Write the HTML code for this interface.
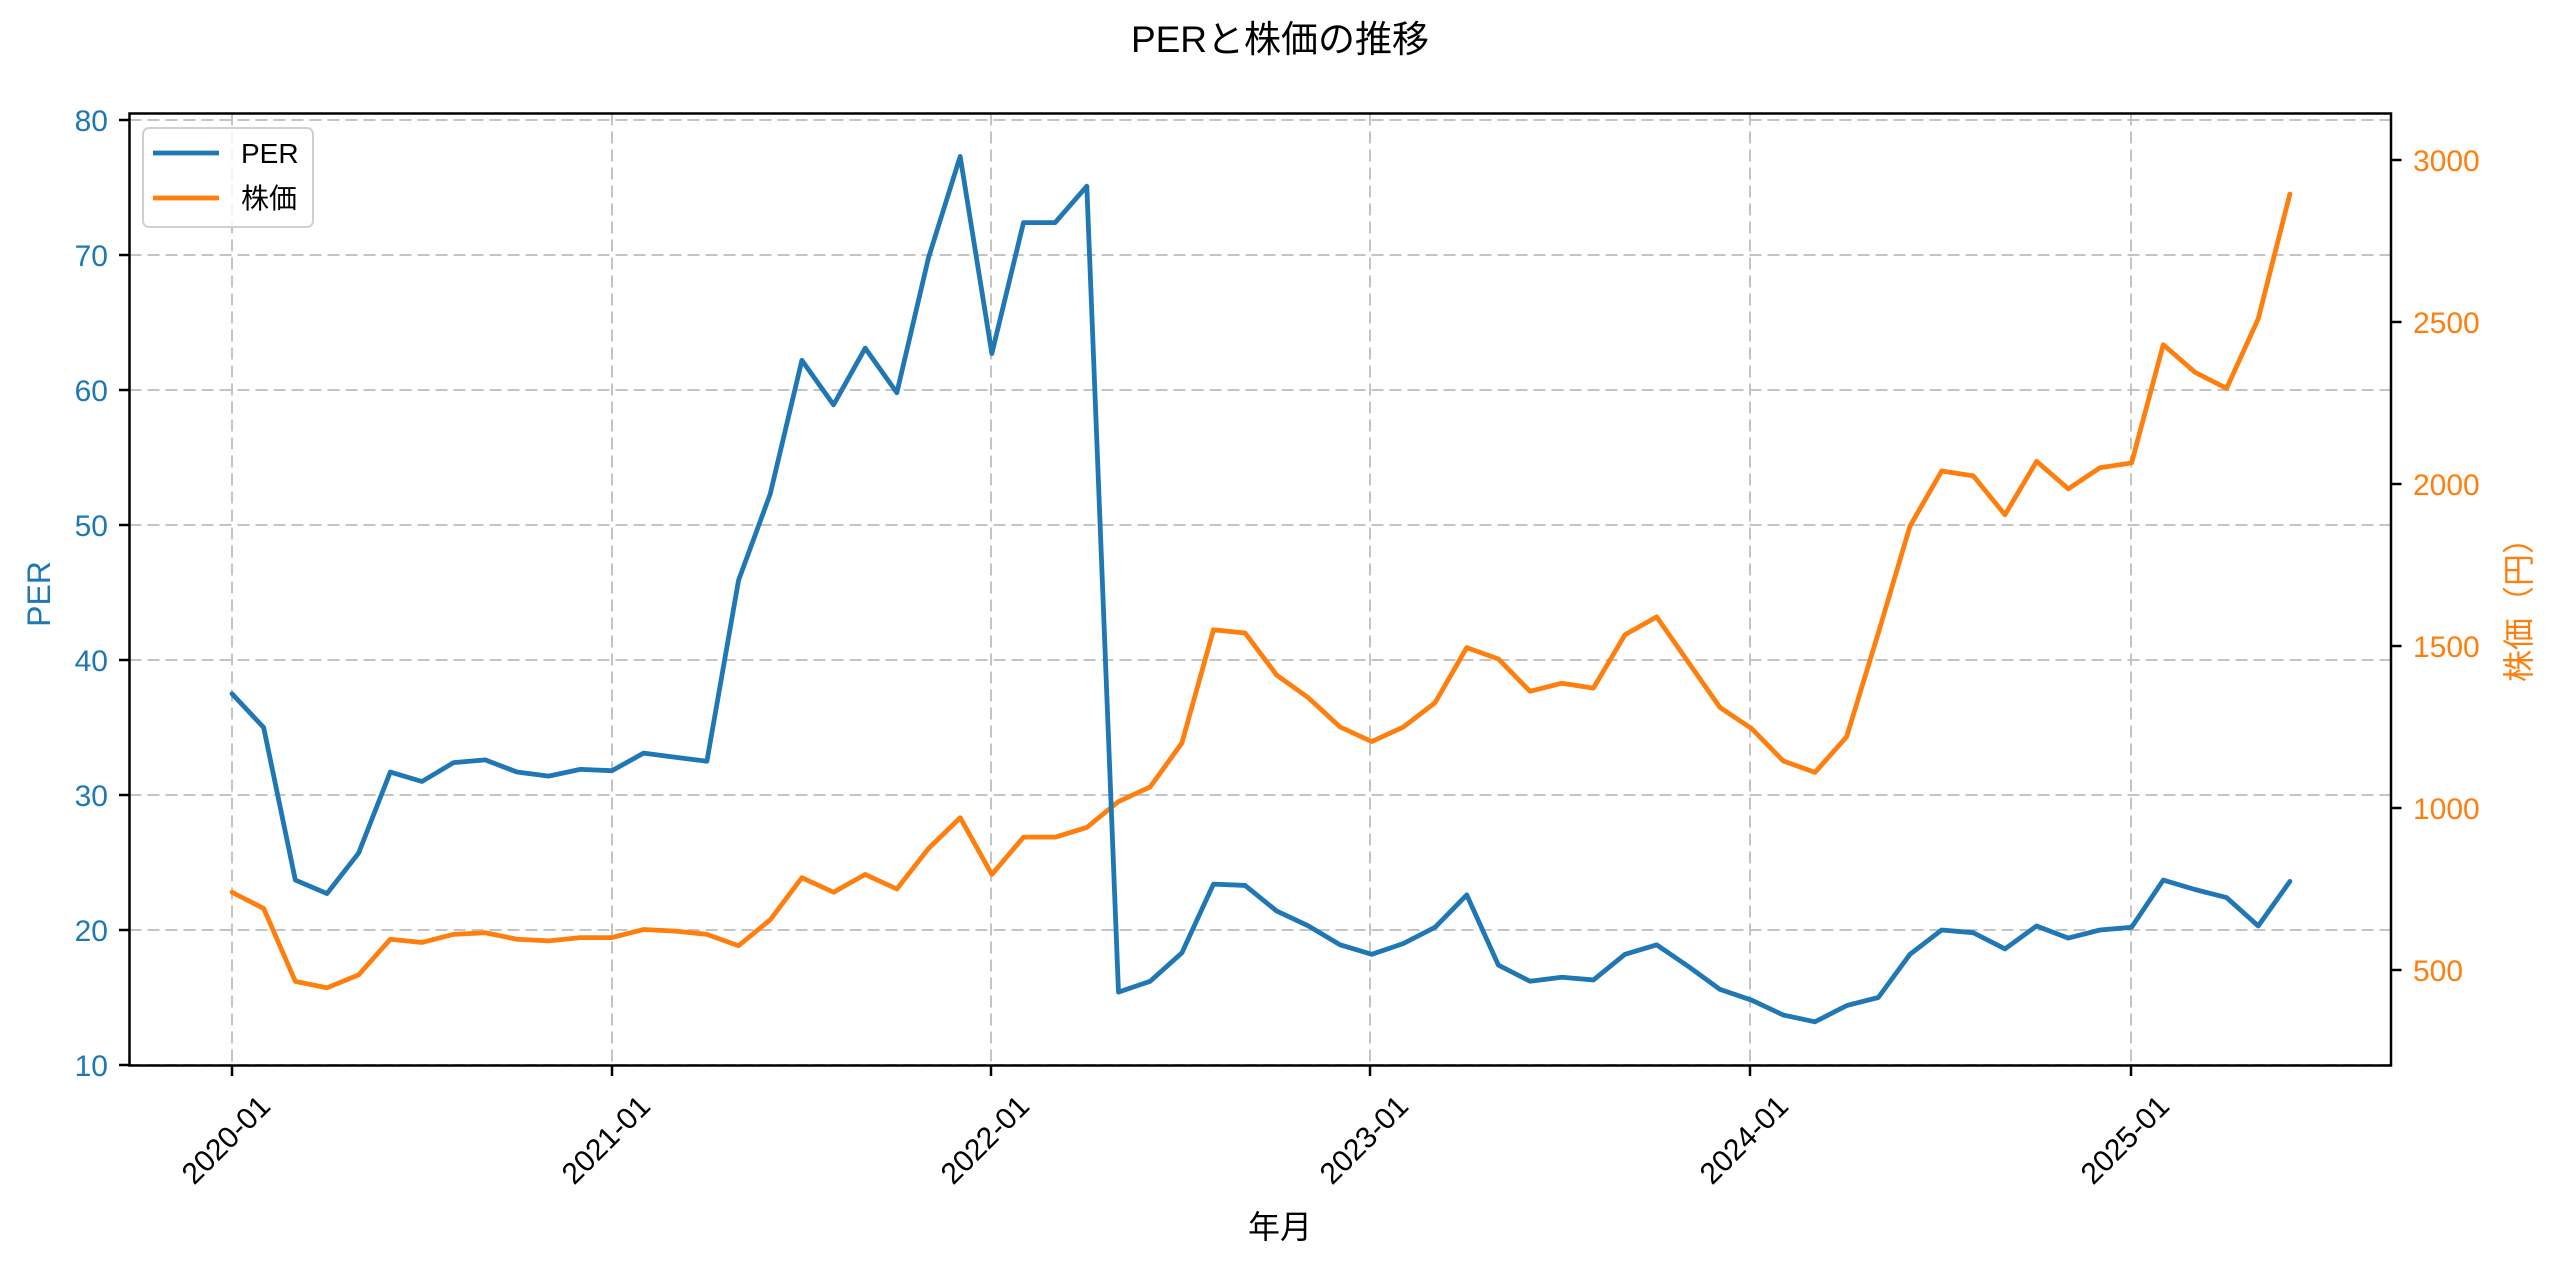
<!DOCTYPE html>
<html><head><meta charset="utf-8"><style>
html,body{margin:0;padding:0;background:#fff;}
svg{display:block;font-family:"Liberation Sans","Noto Sans CJK JP",sans-serif;}
</style></head><body>
<svg id="s" width="2560" height="1269" viewBox="0 0 2560 1269" xmlns="http://www.w3.org/2000/svg">
<rect width="2560" height="1269" fill="#fff"/>
<g id="grid" stroke="#c4c4c4" stroke-width="2" stroke-dasharray="12,6" fill="none"></g>
<g id="series" fill="none" stroke-width="4.8" stroke-linejoin="round" stroke-linecap="round"></g>
<rect x="129.5" y="113.5" width="2261.5" height="952" fill="none" stroke="#000" stroke-width="2.5"/>
<g id="ticks" stroke="#000" stroke-width="2.5"></g>
<g id="labels"></g>
<text x="1280" y="52" font-size="37" text-anchor="middle" fill="#000">PERと株価の推移</text>
<text x="1280" y="1238" font-size="32" text-anchor="middle" fill="#000">年月</text>
<text transform="translate(50,594) rotate(-90)" font-size="32" text-anchor="middle" fill="#1f77b4">PER</text>
<text transform="translate(2530,602) rotate(-90)" font-size="32" text-anchor="middle" fill="#ff7f0e">株価（円）</text>
<g>
<rect x="143" y="128" width="170" height="99" rx="6" fill="#fff" fill-opacity="0.8" stroke="#d0d0d0" stroke-width="2"/>
<line x1="153" y1="153" x2="219" y2="153" stroke="#1f77b4" stroke-width="4.8"/>
<line x1="153" y1="198" x2="219" y2="198" stroke="#ff7f0e" stroke-width="4.8"/>
<text x="241" y="163" font-size="28" fill="#000">PER</text>
<text x="241" y="208" font-size="28" fill="#000">株価</text>
</g>
</svg>
<script>
var NS="http://www.w3.org/2000/svg";
function el(p,t,a,txt){var e=document.createElementNS(NS,t);for(var k in a)e.setAttribute(k,a[k]);if(txt!=null)e.textContent=txt;document.getElementById(p).appendChild(e);return e;}
var per=[37.5,35,23.7,22.7,25.7,31.7,31.0,32.4,32.6,31.7,31.4,31.9,31.8,33.1,32.8,32.5,45.9,52.3,62.2,58.9,63.1,59.8,69.8,77.3,62.7,72.4,72.4,75.1,15.4,16.2,18.3,23.4,23.3,21.4,20.3,18.9,18.2,19.0,20.2,22.6,17.4,16.2,16.5,16.3,18.2,18.9,17.3,15.6,14.8,13.7,13.2,14.4,15.0,18.2,20.0,19.8,18.6,20.3,19.4,20.0,20.2,23.7,23.0,22.4,20.3,23.6];
var pr=[740,690,465,445,485,595,585,610,615,595,590,600,600,625,620,610,575,655,785,740,795,750,875,970,795,910,910,940,1020,1065,1200,1550,1540,1410,1340,1250,1205,1250,1325,1495,1460,1360,1385,1370,1535,1590,1450,1310,1245,1145,1110,1220,1540,1870,2040,2025,1905,2070,1985,2050,2065,2430,2345,2295,2510,2895];
function X(m){return 232+m*31.66;}
function YP(v){return 1065-(v-10)*13.5;}
function YR(p){return 160+(3000-p)*0.324;}
var yt=[1065,1065-135,1065-270,1065-405,1065-540,1065-675,1065-810,1065-945];
var xt=[232,612,991,1370,1750,2131];
xt.forEach(function(x,i){el("grid","line",{x1:x,y1:113.5,x2:x,y2:1065.5});el("ticks","line",{x1:x,y1:1065.5,x2:x,y2:1076});
 el("labels","text",{transform:"translate("+(x+40)+",1108) rotate(-45)","font-size":"30","text-anchor":"end",fill:"#000"},(2020+i)+"-01");});
yt.forEach(function(y,i){el("grid","line",{x1:129.5,y1:y,x2:2391,y2:y});el("ticks","line",{x1:119,y1:y,x2:129.5,y2:y});
 el("labels","text",{x:108,y:y+11,"font-size":"30","text-anchor":"end",fill:"#1f77b4"},String(10+i*10));});
[500,1000,1500,2000,2500,3000].forEach(function(p){var y=YR(p);el("ticks","line",{x1:2391,y1:y,x2:2401.5,y2:y});
 el("labels","text",{x:2413,y:y+11,"font-size":"30",fill:"#ff7f0e"},String(p));});
el("series","polyline",{stroke:"#ff7f0e",points:pr.map(function(v,i){return X(i)+","+YR(v);}).join(" ")});
el("series","polyline",{stroke:"#1f77b4",points:per.map(function(v,i){return X(i)+","+YP(v);}).join(" ")});
</script>
</body></html>
